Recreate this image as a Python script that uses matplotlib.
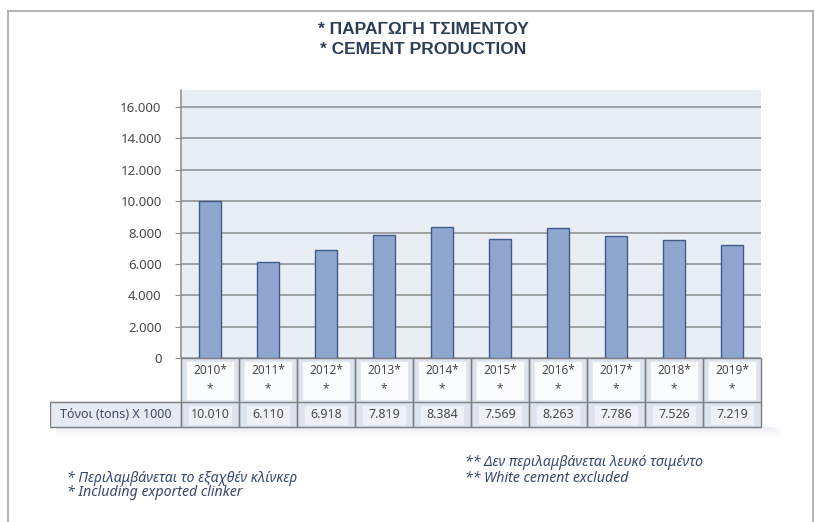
import matplotlib.pyplot as plt
from matplotlib.patches import Rectangle
from matplotlib.lines import Line2D
import numpy as np

# data
years = ['2010', '2011', '2012', '2013', '2014', '2015', '2016', '2017', '2018', '2019']
tons = [10010, 6110, 6918, 7819, 8384, 7569, 8263, 7786, 7526, 7219]
value_labels = ['10.010', '6.110', '6.918', '7.819', '8.384', '7.569', '8.263', '7.786', '7.526', '7.219']
y_ticks = [0, 2000, 4000, 6000, 8000, 10000, 12000, 14000, 16000]
row_label = 'Τόνοι (tons) X 1000'
title_lines = ['* ΠΑΡΑΓΩΓΗ ΤΣΙΜΕΝΤΟΥ', '* CEMENT PRODUCTION']
notes_left = ['* Περιλαμβάνεται το εξαχθέν κλίνκερ', '* Including exported clinker']
notes_right = ['** Δεν περιλαμβάνεται λευκό τσιμέντο', '** White cement excluded']

W, H = 815, 522
fig = plt.figure(figsize=(W / 100, H / 100), dpi=100)
fig.patch.set_facecolor('white')

def fx(px):
    return px / W

def fy(py):
    return 1 - py / H

# outer frame
for xs, ys in [([8, 8], [11, 522]), ([8, 813], [11, 11]), ([813, 813], [11, 522])]:
    fig.add_artist(Line2D([fx(v) for v in xs], [fy(v) for v in ys], color='#a6a6a6', lw=1.2))

# title
for ty, line in zip([29, 49], title_lines):
    fig.text(fx(423), fy(ty), line, ha='center', va='center', fontsize=12.5,
             fontweight='bold', color='#2b3e55', family='Liberation Sans')

# main plot
left, right, top, bottom = 181, 761, 90, 358
ax = fig.add_axes([fx(left), fy(bottom), fx(right - left), (bottom - top) / H])
ax.set_facecolor('#e9edf4')
x = np.arange(len(years))
ax.bar(x, tons, width=0.38, color='#8fa7cf', edgecolor='#3e5d8c', linewidth=1.0, zorder=3)
ax.set_xlim(-0.5, len(years) - 0.5)
ax.set_ylim(0, 17090)
ax.set_yticks(y_ticks)
ax.set_yticklabels([f'{v:,}'.replace(',', '.') for v in y_ticks], fontsize=9.5,
                   color='#4a4a4a', family='Noto Sans')
ax.yaxis.grid(True, color='#8c8c8c', lw=1.1, zorder=1)
ax.set_xticks([])
ax.tick_params(axis='y', length=4, color='#8c8c8c', pad=10)
for s in ['top', 'right', 'bottom']:
    ax.spines[s].set_visible(False)
ax.spines['left'].set_color('#8c8c8c')
ax.spines['left'].set_linewidth(1.1)

# data table below plot, same column scale
tleft, tright, ttop, tmid, tbot = 50, 761, 358, 402, 427
unit = (right - left) / len(years)
xmin = -0.5 - (left - tleft) / unit
tax = fig.add_axes([fx(tleft), fy(tbot + 12), fx(tright - tleft + 30), (tbot + 12 - ttop) / H])
tax.set_xlim(xmin, len(years) - 0.5 + 30 / unit)
tax.set_ylim(tbot + 12, ttop)
tax.axis('off')

# faint shadow below the table
for k in range(1, 7):
    tax.add_patch(Rectangle((xmin + 0.1, tbot), len(years) - 0.5 - xmin + 0.05 * k, 1.6 * k,
                            color='#aab2c2', alpha=0.03, lw=0, zorder=0))

grid_c = '#7f7f7f'
tax.add_patch(Rectangle((-0.5, ttop), len(years), tbot - ttop, color='#dde3ee', zorder=0.5))
tax.add_patch(Rectangle((xmin, tmid), -0.5 - xmin, tbot - tmid, color='#e6eaf2', zorder=0.5))
for i, yr in enumerate(years):
    tax.add_patch(Rectangle((i - 0.5, ttop), 1, tbot - ttop, fill=False, ec=grid_c, lw=1, zorder=4))
    # white box in year cell
    tax.add_patch(Rectangle((i - 0.40, ttop + 4), 0.80, 37, color='#fbfcfe', zorder=1))
    tax.text(i, ttop + 13, yr + '*', ha='center', va='center', fontsize=8.5,
             color='#4a4a4a', family='Noto Sans', zorder=5)
    tax.text(i, ttop + 31, '*', ha='center', va='center', fontsize=8.5,
             color='#4a4a4a', family='Noto Sans', zorder=5)
    tax.add_patch(Rectangle((i - 0.36, tmid + 4), 0.72, 18, color='#eef1f8', zorder=1))
    tax.text(i, (tmid + tbot) / 2, value_labels[i], ha='center', va='center', fontsize=9,
             color='#4a4a4a', family='Noto Sans', zorder=5)
tax.plot([-0.5, len(years) - 0.5], [tmid, tmid], color=grid_c, lw=1, zorder=4)
tax.add_patch(Rectangle((xmin, tmid), -0.5 - xmin, tbot - tmid, fill=False, ec=grid_c, lw=1, zorder=4))
tax.text((xmin - 0.5) / 2, (tmid + tbot) / 2, row_label, ha='center', va='center', fontsize=9,
         color='#3b4a60', family='Noto Sans', zorder=5)

# footnotes
note_c = '#34486a'
for px, py, txt in [(67, 478, notes_left[0]), (67, 492, notes_left[1]),
                    (465, 463, notes_right[0]), (465, 478, notes_right[1])]:
    fig.text(fx(px), fy(py), txt, ha='left', va='center', fontsize=10.2,
             style='italic', color=note_c, family='Noto Sans')

fig.savefig('out.png', dpi=100)
